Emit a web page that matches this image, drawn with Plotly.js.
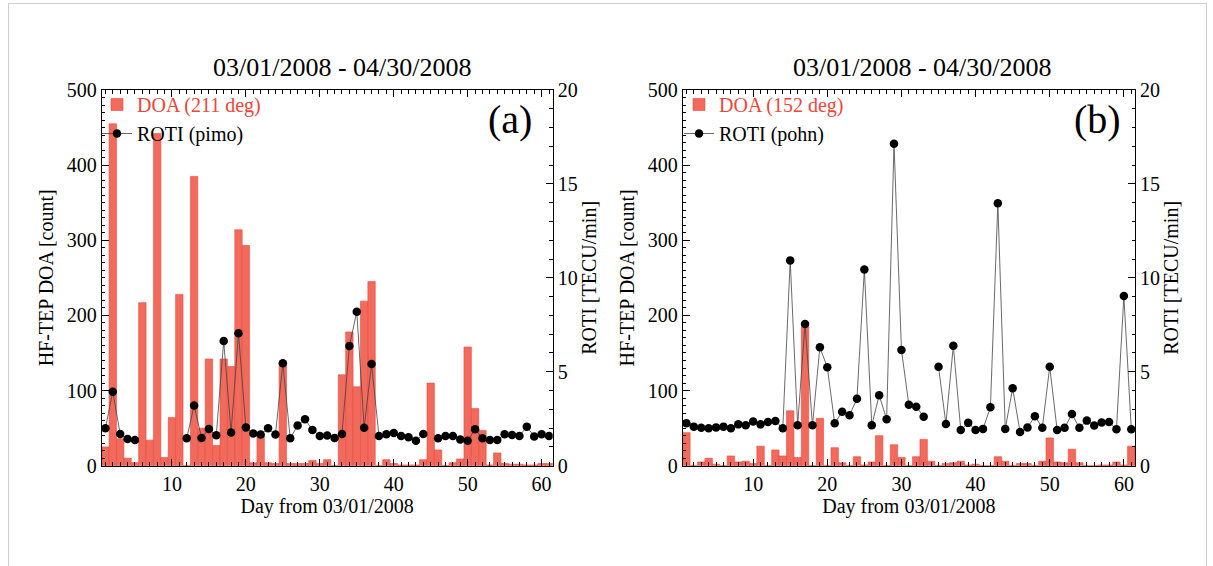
<!DOCTYPE html>
<html>
<head>
<meta charset="utf-8">
<script src="https://cdn.plot.ly/plotly-3.0.1.min.js"></script>
<style>
  html, body { margin: 0; padding: 0; background: #fff; }
  #wrap { position: relative; width: 1213px; height: 566px; overflow: hidden; }
  #plot { position: absolute; left: 0; top: 0; width: 1213px; height: 566px; }
  #frame { position: absolute; left: 8px; top: 3px; width: 1197px; height: 580px;
           border: 1.5px solid #cfcfcf; pointer-events: none; }
</style>
</head>
<body>
<div id="wrap">
  <div id="plot"></div>
  <div id="frame"></div>
</div>
<script>
// ---------------- data ----------------
const days = [1,2,3,4,5,6,7,8,9,10,11,12,13,14,15,16,17,18,19,20,
              21,22,23,24,25,26,27,28,29,30,31,32,33,34,35,36,37,38,39,40,
              41,42,43,44,45,46,47,48,49,50,51,52,53,54,55,56,57,58,59,60,61];

// panel (a): DOA 211 deg counts, ROTI at pimo
const doaA = [25,455,36,10,4,217,34,442,11,64,228,0,385,50,142,27,142,132,314,293,
              4,40,4,3,138,3,3,3,7,3,8,0,121,178,105,219,245,0,8,3,
              1,1,1,8,110,21,0,4,9,158,76,47,1,17,3,2,2,1,1,3,3];
const rotiA = [1.99,3.94,1.69,1.42,1.37,null,null,null,null,null,null,1.46,3.21,1.48,1.95,1.62,6.64,1.77,7.05,2.04,
               1.72,1.66,1.99,1.66,5.45,1.46,2.14,2.47,1.90,1.58,1.61,1.47,1.69,6.37,8.20,2.02,5.41,1.58,1.68,1.74,
               1.58,1.51,1.33,1.69,null,1.46,1.58,1.58,1.40,1.33,1.94,1.46,1.37,1.37,1.67,1.63,1.58,2.08,1.55,1.67,1.58];

// panel (b): DOA 152 deg counts, ROTI at pohn
const doaB = [44,0,5,10,2,0,13,5,6,3,26,0,21,13,73,11,185,0,63,0,
              24,4,0,12,1,5,40,0,28,11,0,12,35,6,0,3,4,6,1,2,
              0,0,12,6,0,3,3,0,6,37,5,4,22,4,0,0,1,1,5,1,26];
const rotiB = [2.26,2.08,2.02,1.99,2.04,2.08,1.99,2.20,2.15,2.35,2.20,2.33,2.38,1.99,10.93,2.15,7.54,2.15,6.30,5.24,
               2.26,2.87,2.68,3.57,10.45,2.15,3.75,2.47,17.14,6.16,3.25,3.14,2.61,null,5.27,2.22,6.39,1.90,2.28,1.90,
               1.96,3.11,13.97,1.96,4.12,1.79,2.03,2.63,2.02,5.27,1.90,2.02,2.75,2.02,2.40,2.14,2.30,2.33,1.94,9.03,1.94];

const dateTitle = '03/01/2008 - 04/30/2008';
const xTitle = 'Day from 03/01/2008';
const yLeftTitle = 'HF-TEP DOA [count]';
const yRightTitle = 'ROTI [TECU/min]';
const doaNameA = 'DOA (211 deg)';
const doaNameB = 'DOA (152 deg)';
const rotiNameA = 'ROTI (pimo)';
const rotiNameB = 'ROTI (pohn)';
const panelLabels = ['(a)', '(b)'];

// ---------------- styling ----------------
const W = 1213, H = 566;
const fx = p => p / W;
const fy = p => 1 - p / H;
const FONT = '"Liberation Serif", "DejaVu Serif", serif';
const BAR = '#f26a5c';
const BAR_EDGE = '#e5493c';
const RED_TXT = '#f0453a';

function xAxis(domain, anchor) {
  return {
    domain: domain, anchor: anchor, range: [0.5, 61.5],
    tickmode: 'linear', tick0: 0, dtick: 10,
    ticks: 'inside', ticklen: 7, tickwidth: 1, tickcolor: '#000',
    minor: { dtick: 1, ticks: 'inside', ticklen: 3.5, tickwidth: 1, tickcolor: '#000' },
    showline: true, linecolor: '#000', linewidth: 1, mirror: 'ticks',
    showgrid: false, zeroline: false,
    tickfont: { family: FONT, size: 20, color: '#000' },
    title: { text: xTitle, font: { family: FONT, size: 20, color: '#000' }, standoff: 4 }
  };
}
function yLeft(domain, anchor) {
  return {
    domain: domain, anchor: anchor, range: [0, 500], side: 'left',
    tickmode: 'linear', tick0: 0, dtick: 100,
    ticks: 'inside', ticklen: 7, tickwidth: 1, tickcolor: '#000',
    minor: { dtick: 10, ticks: 'inside', ticklen: 3.5, tickwidth: 1, tickcolor: '#000' },
    showline: true, linecolor: '#000', linewidth: 1,
    showgrid: false, zeroline: false,
    tickfont: { family: FONT, size: 20, color: '#000' },
    title: { text: yLeftTitle, font: { family: FONT, size: 20, color: '#000' }, standoff: 7 }
  };
}
function yRight(over, anchor) {
  return {
    overlaying: over, anchor: anchor, side: 'right', range: [0, 20],
    tickmode: 'linear', tick0: 0, dtick: 5,
    ticks: 'inside', ticklen: 7, tickwidth: 1, tickcolor: '#000',
    minor: { dtick: 1, ticks: 'inside', ticklen: 3.5, tickwidth: 1, tickcolor: '#000' },
    showline: true, linecolor: '#000', linewidth: 1,
    showgrid: false, zeroline: false,
    tickfont: { family: FONT, size: 20, color: '#000' },
    title: { text: yRightTitle, font: { family: FONT, size: 20, color: '#000' }, standoff: 0 }
  };
}

const yDom = [fy(465.7), fy(90)];
const domA = [fx(101.7), fx(552.7)];
const domB = [fx(682.7), fx(1135)];

function barTrace(y, name, xa, ya, lg) {
  return {
    type: 'bar', x: days, y: y, width: 1, xaxis: xa, yaxis: ya, legend: lg,
    name: '<span style="color:' + RED_TXT + '">' + name + '</span>',
    marker: { color: BAR, line: { color: BAR_EDGE, width: 0.6 } },
    hoverinfo: 'x+y'
  };
}
function rotiTrace(y, name, xa, ya, lg) {
  return {
    type: 'scatter', mode: 'lines+markers', x: days, y: y, xaxis: xa, yaxis: ya, legend: lg,
    name: name, connectgaps: false,
    line: { color: '#444', width: 0.8 },
    marker: { color: '#000', size: 8.5 },
    hoverinfo: 'x+y'
  };
}

const traces = [
  barTrace(doaA, doaNameA, 'x', 'y', 'legend'),
  rotiTrace(rotiA, rotiNameA, 'x', 'y2', 'legend'),
  barTrace(doaB, doaNameB, 'x2', 'y3', 'legend2'),
  rotiTrace(rotiB, rotiNameB, 'x2', 'y4', 'legend2')
];

function legendAt(xp, yp) {
  return {
    x: fx(xp), y: fy(yp), xanchor: 'left', yanchor: 'top',
    bgcolor: 'rgba(0,0,0,0)', borderwidth: 0, traceorder: 'normal',
    font: { family: FONT, size: 20, color: '#000' },
    itemwidth: 30, tracegroupgap: 0
  };
}

const ann = (text, xp, yp, size) => ({
  text: text, xref: 'paper', yref: 'paper', x: fx(xp), y: fy(yp),
  xanchor: 'center', yanchor: 'middle', showarrow: false,
  font: { family: FONT, size: size, color: '#000' }
});

const layout = {
  width: W, height: H,
  margin: { l: 0, r: 0, t: 0, b: 0, pad: 0 },
  paper_bgcolor: '#fff', plot_bgcolor: '#fff',
  bargap: 0, barmode: 'overlay',
  showlegend: true,
  xaxis: xAxis(domA, 'y'),
  yaxis: yLeft(yDom, 'x'),
  yaxis2: yRight('y', 'x'),
  xaxis2: xAxis(domB, 'y3'),
  yaxis3: yLeft(yDom, 'x2'),
  yaxis4: yRight('y3', 'x2'),
  legend: legendAt(97, 85),
  legend2: legendAt(679, 85),
  annotations: [
    ann(dateTitle, 342, 68, 26),
    ann(dateTitle, 922, 68, 26),
    ann(panelLabels[0], 510, 120, 40),
    ann(panelLabels[1], 1097, 120, 40)
  ]
};

Plotly.newPlot('plot', traces, layout, { displayModeBar: false, staticPlot: true });
</script>
</body>
</html>
